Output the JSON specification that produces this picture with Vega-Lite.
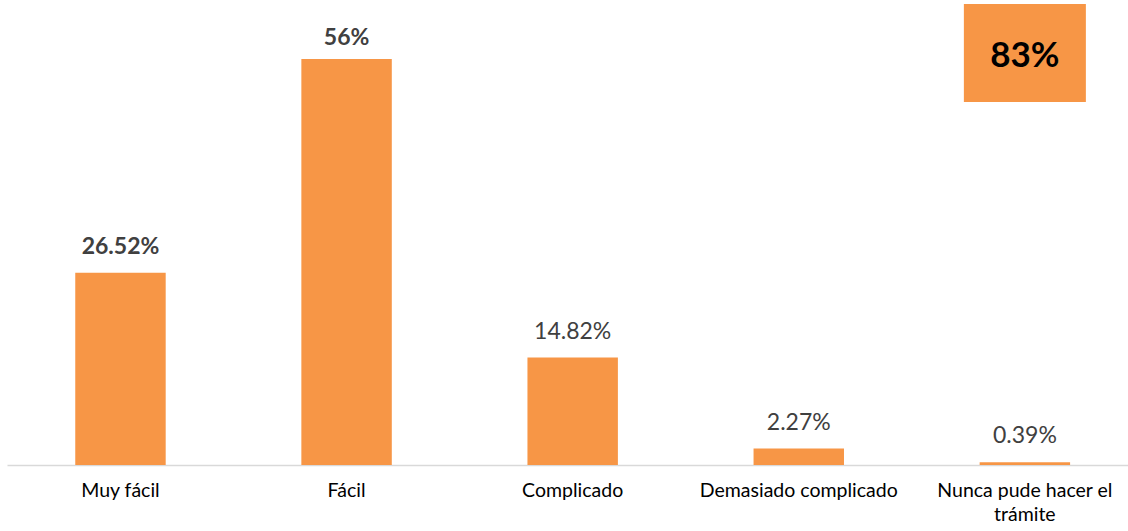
{
  "$schema": "https://vega.github.io/schema/vega-lite/v6.json",
  "width": 1121,
  "height": 465,
  "padding": {"left": 7, "top": 0, "right": 0, "bottom": 0},
  "autosize": {"type": "pad"},
  "config": {"view": {"stroke": null}, "font": "Lato"},
  "datasets": {
    "barras": [
      {"categoria": "Muy fácil", "valor": 0.2652},
      {"categoria": "Fácil", "valor": 0.56},
      {"categoria": "Complicado", "valor": 0.1482},
      {"categoria": "Demasiado complicado", "valor": 0.0227},
      {"categoria": "Nunca pude hacer el trámite", "valor": 0.0039}
    ],
    "recuadro": [
      {"categoria": "Nunca pude hacer el trámite", "desde": 0.5007, "hasta": 0.6359, "centro": 0.549, "etiqueta": "83%"}
    ]
  },
  "layer": [
    {
      "data": {"name": "barras"},
      "mark": {"type": "bar", "color": "#F79646"},
      "encoding": {
        "x": {
          "field": "categoria",
          "type": "nominal",
          "sort": ["Muy fácil", "Fácil", "Complicado", "Demasiado complicado", "Nunca pude hacer el trámite"],
          "scale": {"paddingInner": 0.6, "paddingOuter": 0.279, "align": 0.541},
          "axis": {
            "title": null,
            "labelAngle": 0,
            "ticks": false,
            "domainColor": "#D9D9D9",
            "domainWidth": 1.5,
            "labelFontSize": 19.5,
            "labelColor": "#000000",
            "labelPadding": 16,
            "labelLineHeight": 24,
            "labelLimit": 400,
            "labelExpr": "datum.value == 'Nunca pude hacer el trámite' ? ['Nunca pude hacer el', 'trámite'] : datum.value"
          }
        },
        "y": {
          "field": "valor",
          "type": "quantitative",
          "scale": {"domain": [0, 0.6414], "nice": false},
          "axis": null
        }
      }
    },
    {
      "data": {"name": "barras"},
      "transform": [{"filter": "datum.valor < 0.2"}],
      "mark": {"type": "text", "baseline": "alphabetic", "dy": -19, "fontSize": 23, "color": "#404040"},
      "encoding": {
        "x": {"field": "categoria", "type": "nominal", "sort": ["Muy fácil", "Fácil", "Complicado", "Demasiado complicado", "Nunca pude hacer el trámite"]},
        "y": {"field": "valor", "type": "quantitative"},
        "text": {"field": "valor", "type": "quantitative", "format": ".2~%"}
      }
    },
    {
      "data": {"name": "barras"},
      "transform": [{"filter": "datum.valor > 0.2 && datum.valor < 0.5"}],
      "mark": {"type": "text", "baseline": "alphabetic", "dy": -19, "fontSize": 23, "fontWeight": "bold", "color": "#404040"},
      "encoding": {
        "x": {"field": "categoria", "type": "nominal", "sort": ["Muy fácil", "Fácil", "Complicado", "Demasiado complicado", "Nunca pude hacer el trámite"]},
        "y": {"field": "valor", "type": "quantitative"},
        "text": {"field": "valor", "type": "quantitative", "format": ".2~%"}
      }
    },
    {
      "data": {"name": "barras"},
      "transform": [{"filter": "datum.valor > 0.5"}],
      "mark": {"type": "text", "baseline": "alphabetic", "dy": -14, "fontSize": 23, "fontWeight": "bold", "color": "#404040"},
      "encoding": {
        "x": {"field": "categoria", "type": "nominal", "sort": ["Muy fácil", "Fácil", "Complicado", "Demasiado complicado", "Nunca pude hacer el trámite"]},
        "y": {"field": "valor", "type": "quantitative"},
        "text": {"field": "valor", "type": "quantitative", "format": ".2~%"}
      }
    },
    {
      "data": {"name": "recuadro"},
      "mark": {"type": "bar", "width": 122, "color": "#F79646"},
      "encoding": {
        "x": {"field": "categoria", "type": "nominal", "sort": ["Muy fácil", "Fácil", "Complicado", "Demasiado complicado", "Nunca pude hacer el trámite"]},
        "y": {"field": "desde", "type": "quantitative"},
        "y2": {"field": "hasta"}
      }
    },
    {
      "data": {"name": "recuadro"},
      "mark": {"type": "text", "baseline": "alphabetic", "fontSize": 35, "fontWeight": "bold", "color": "#000000"},
      "encoding": {
        "x": {"field": "categoria", "type": "nominal", "sort": ["Muy fácil", "Fácil", "Complicado", "Demasiado complicado", "Nunca pude hacer el trámite"]},
        "y": {"field": "centro", "type": "quantitative"},
        "text": {"field": "etiqueta", "type": "nominal"}
      }
    }
  ]
}
